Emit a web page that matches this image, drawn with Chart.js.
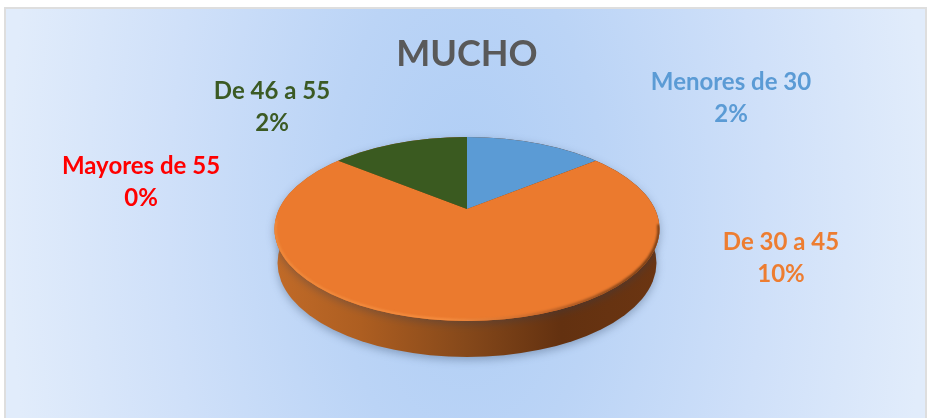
<!DOCTYPE html>
<html>
<head>
<meta charset="utf-8">
<title>MUCHO</title>
<script src="https://cdn.jsdelivr.net/npm/chart.js@4"></script>
<style>
    html, body { margin: 0; padding: 0; background: #fff; }
    #wrap { position: relative; width: 928px; height: 418px; overflow: hidden; }
    #frame {
        position: absolute; left: 4px; top: 7px; width: 923px; height: 413px;
        border: 2px solid #dedede; box-sizing: border-box;
        background: radial-gradient(ellipse 50% 210% at 50.2% 50%, #aecdf5 0%, #bbd4f6 30%, #cfe0f9 65%, #e1ecfb 100%);
    }
    canvas { position: absolute; left: 0; top: 0; }
</style>
</head>
<body>
<div id="wrap">
    <div id="frame"></div>
    <canvas id="pieChart" width="928" height="418"></canvas>
</div>
<script>
const categories = ['Menores de 30', 'De 30 a 45', 'De 46 a 55', 'Mayores de 55'];
const percentages = [2, 10, 2, 0];
const sliceColors = ['#5b9bd5', '#eb7a2e', '#3a5a20', '#a5a5a5'];
const labelColors = ['#5b9bd5', '#ed7d31', '#3b5a24', '#ff0000'];
const labelCenters = [[731, 82], [781, 242], [272, 91], [141, 166]];

const fontFamily = 'Lato, "Open Sans", sans-serif';
const tilt = 0.47;      // y squash of the pie around its apex
const disc = { dy: 20, rx: 192.5, ry: 92 };     // top face, relative to the apex
const wall = { dy: 54, rx: 189.5, ry: 94 };     // bottom face, relative to the apex

// Flattened 3D look: side wall first, then the library's arcs inside the squashed top face
const pie3d = {
    id: 'pie3d',
    beforeDatasetsDraw(chart) {
        const ctx = chart.ctx;
        const apex = chart.getDatasetMeta(0).data[0];

        const wallFill = ctx.createLinearGradient(apex.x - wall.rx, 0, apex.x + wall.rx, 0);
        wallFill.addColorStop(0, '#c06a28');
        wallFill.addColorStop(0.22, '#ad5e21');
        wallFill.addColorStop(0.5, '#85481a');
        wallFill.addColorStop(0.75, '#633110');
        wallFill.addColorStop(1, '#6b3512');

        ctx.save();
        ctx.shadowColor = 'rgba(40, 60, 90, 0.35)';
        ctx.shadowBlur = 9;
        ctx.shadowOffsetY = 3;
        ctx.fillStyle = wallFill;
        ctx.beginPath();
        ctx.ellipse(apex.x, apex.y + wall.dy, wall.rx, wall.ry, 0, 0, Math.PI * 2);
        ctx.fill();
        ctx.beginPath();
        ctx.ellipse(apex.x, apex.y + disc.dy, disc.rx, disc.ry, 0, 0, Math.PI * 2);
        ctx.fill();
        ctx.restore();

        ctx.save();
        ctx.beginPath();
        ctx.ellipse(apex.x, apex.y + disc.dy, disc.rx, disc.ry, 0, 0, Math.PI * 2);
        ctx.clip();
        ctx.translate(apex.x, apex.y);
        ctx.scale(1, tilt);
        ctx.translate(-apex.x, -apex.y);
    },
    afterDatasetsDraw(chart) {
        const ctx = chart.ctx;
        ctx.restore();

        const apex = chart.getDatasetMeta(0).data[0];
        const cy = apex.y + disc.dy;

        // bevel on the rim of the top face
        const rim = ctx.createLinearGradient(apex.x - disc.rx, 0, apex.x + disc.rx, 0);
        rim.addColorStop(0, '#f08a3c');
        rim.addColorStop(0.45, '#f58f42');
        rim.addColorStop(0.7, '#c4662a');
        rim.addColorStop(0.95, '#703a14');
        rim.addColorStop(1, '#703a14');
        ctx.save();
        ctx.beginPath();
        ctx.ellipse(apex.x, cy, disc.rx, disc.ry, 0, 0, Math.PI * 2);
        ctx.clip();
        ctx.filter = 'blur(0.8px)';
        ctx.strokeStyle = rim;
        ctx.lineWidth = 3;
        ctx.beginPath();
        ctx.ellipse(apex.x, cy, disc.rx - 0.5, disc.ry - 0.5, 0, -0.05, Math.PI + 0.1);
        ctx.stroke();
        ctx.restore();
    }
};

// Category name and percentage above each other, coloured like the slice
const sliceLabels = {
    id: 'sliceLabels',
    afterDraw(chart) {
        const ctx = chart.ctx;
        ctx.save();
        ctx.font = '700 24px ' + fontFamily;
        ctx.textAlign = 'center';
        ctx.textBaseline = 'middle';
        categories.forEach((name, i) => {
            const [x, y] = labelCenters[i];
            ctx.fillStyle = labelColors[i];
            ctx.fillText(name, x, y);
            ctx.fillText(percentages[i] + '%', x, y + 32);
        });
        ctx.restore();
    }
};

new Chart(document.getElementById('pieChart'), {
    type: 'pie',
    data: {
        labels: categories,
        datasets: [{
            data: percentages,
            backgroundColor: sliceColors,
            borderWidth: 0,
            radius: 260,
            clip: false
        }]
    },
    options: {
        responsive: false,
        animation: false,
        layout: { padding: { left: 6, bottom: 84.2 } },
        plugins: {
            legend: { display: false },
            tooltip: { enabled: false },
            title: {
                display: true,
                text: 'MUCHO',
                color: '#595959',
                font: { family: fontFamily, size: 36, weight: '700', lineHeight: 1.2 },
                padding: { top: 33, bottom: 8 }
            }
        }
    },
    plugins: [pie3d, sliceLabels]
});
</script>
</body>
</html>
